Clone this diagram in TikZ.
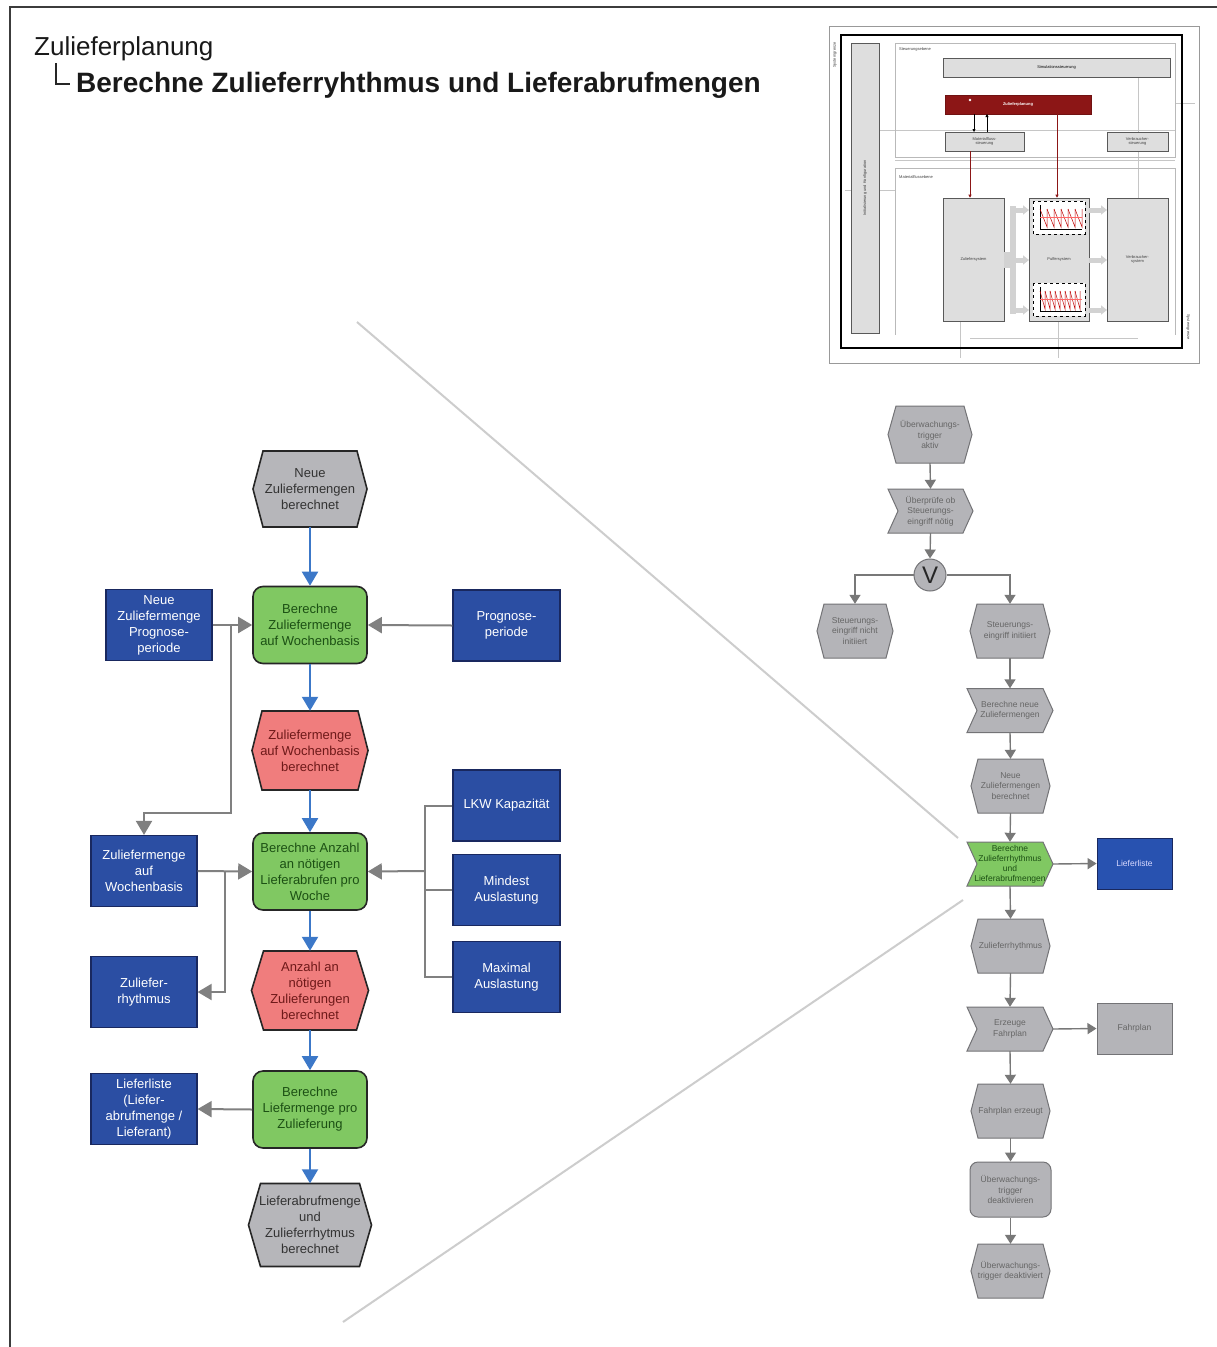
\documentclass[tikz,border=0pt]{standalone}
\usepackage{fontspec}
\setmainfont{Liberation Sans}
\usetikzlibrary{arrows.meta}
\definecolor{blueF}{RGB}{43,78,163}
\definecolor{blueB}{RGB}{25,40,95}
\definecolor{greenF}{RGB}{128,200,98}
\definecolor{greenT}{RGB}{28,80,20}
\definecolor{redF}{RGB}{240,125,125}
\definecolor{redT}{RGB}{110,25,25}
\definecolor{grayF}{RGB}{182,182,186}
\definecolor{rgrayF}{RGB}{180,180,184}
\definecolor{arrowBlue}{RGB}{60,120,200}
\definecolor{connGray}{RGB}{128,128,128}
\definecolor{rconn}{RGB}{120,120,120}
\definecolor{rbord}{RGB}{115,115,118}
\definecolor{darkRed}{RGB}{140,22,22}
\definecolor{lblue}{RGB}{40,82,176}
\definecolor{frameC}{RGB}{60,60,60}
\definecolor{diagC}{RGB}{205,205,205}
\definecolor{insF}{RGB}{222,222,222}

\newcommand\fs[2]{\fontsize{#1}{#2}\selectfont}
\newcommand\hexnode[9]{%
 \path[#1] ({#4-#6},#5) -- ({#4-#6+#8},{#5-#7}) -- ({#4+#6-#8},{#5-#7}) -- ({#4+#6},#5) -- ({#4+#6-#8},{#5+#7}) -- ({#4-#6+#8},{#5+#7}) -- cycle;
 \node[#2, minimum width={2*#6}, minimum height={2*#7}] (#3) at (#4,#5) {#9};}
\newcommand\chevnode[9]{%
 \path[#1] ({#4-#6},{#5-#7}) -- ({#4+#6-#8},{#5-#7}) -- ({#4+#6},#5) -- ({#4+#6-#8},{#5+#7}) -- ({#4-#6},{#5+#7}) -- ({#4-#6+#8},#5) -- cycle;
 \node[#2, minimum width={2*#6}, minimum height={2*#7}] (#3) at (#4,#5) {#9};}

\tikzset{
 dnode/.style={rectangle, draw=blueB, fill=blueF, line width=1.2, text=white, minimum width=106, minimum height=71, align=center, font=\fs{13}{16}, inner sep=0},
 fnode/.style={rectangle, rounded corners=10, draw=black!85, fill=greenF, line width=1.6, text=greenT, minimum width=114, minimum height=77, align=center, font=\fs{13}{16}, inner sep=0},
 evgray/.style={draw=black!85, line width=1.6, fill=grayF},
 evred/.style={draw=black!85, line width=1.6, fill=redF},
 etxtg/.style={inner sep=0, align=center, font=\fs{13}{16}, text=black!80},
 etxtr/.style={inner sep=0, align=center, font=\fs{13}{16}, text=redT},
 rsh/.style={draw=rbord, fill=rgrayF, line width=1},
 rgreen/.style={draw=rbord, fill=greenF, line width=1},
 rtxt/.style={inner sep=0, align=center, font=\fs{8.5}{10.5}, text=black!60},
 rgtxt/.style={inner sep=0, align=center, font=\fs{8.5}{10}, text=greenT},
 barrow/.style={draw=arrowBlue, line width=2, -{Triangle[length=14pt,width=16pt]}},
 garrow/.style={draw=connGray, line width=2, -{Triangle[length=14pt,width=16pt]}},
 gline/.style={draw=connGray, line width=2},
 rarrow/.style={draw=rconn, line width=1.4, -{Triangle[length=9pt,width=11pt]}},
 ins/.style={draw=gray!70!black, fill=insF, line width=0.6},
 instxt/.style={inner sep=0, font=\fs{4}{4.6}, align=center, text=black!75},
 thin/.style={draw=gray!45, line width=0.5},
}

\begin{document}
\begin{tikzpicture}[x=1pt,y=-1pt]
\useasboundingbox (0,0) rectangle (1217,1347);
\fill[white] (0,0) rectangle (1217,1347);

% page frame
\draw[frameC, line width=2] (10,1347) -- (10,7) -- (1217,7);

% title
\node[anchor=base west, font=\fs{26}{30}, inner sep=0, text=black!90] (t1) at (34,55) {Zulieferplanung};
\node[anchor=base west, font=\fs{28}{32}\bfseries, inner sep=0, text=black!90] (t2) at (76,92) {Berechne Zulieferryhthmus und Lieferabrufmengen};
\draw[black!85, line width=1.5] (56,63) -- (56,84) -- (70,84);

% diagonal zoom lines
\draw[diagC, line width=2] (357,322) -- (958,838);
\draw[diagC, line width=2] (343,1322) -- (963,900);

% ---------------- inset -----------------
\draw[gray!80, line width=0.9] (829,26) rectangle (1199,363);
\draw[thin] (1175,103) -- (1195,103);
\draw[thin] (845,190) -- (895,190);
\draw[thin] (880,130) -- (1175,130);
\draw[thin] (895,160) -- (1175,160);
\draw[thin] (960,321) -- (960,358);
\draw[thin] (1058,321) -- (1058,358);
\draw[thin] (970,338) -- (1138,338);
\draw[thin] (1138,77) -- (1138,132);
\draw[thin] (1138,151) -- (1138,198);
\draw[black, line width=1.6] (841,35) rectangle (1182,348);
\node[instxt, rotate=90] (sg1) at (835,55) {Systemgrenze};
\node[instxt, rotate=-90] (sg2) at (1188,327) {Systemgrenze};
\node[ins, minimum width=28, minimum height=290, inner sep=0] (init) at (865,188) {};
\node[instxt, rotate=90] at (init.center) {Initialisierung und Konfiguration};
\draw[gray!55, line width=0.6] (895,43) rectangle (1175,157);
\node[instxt, anchor=west] (steb) at (899,49) {Steuerungsebene};
\node[ins, minimum width=227, minimum height=19, inner sep=0, font=\fs{4}{4.6}] (sim) at (1056.5,67.5) {Simulationssteuerung};
\node[draw=darkRed!80!black, fill=darkRed, minimum width=146, minimum height=19, inner sep=0, font=\fs{4}{4.6}\bfseries, text=white] (zp) at (1018,104.5) {Zulieferplanung};
\fill[white] (970,100) circle (1.4);
\node[ins, minimum width=79, minimum height=19, inner sep=0, instxt] (mfs) at (984.5,141.5) {Materialfluss-\\steuerung};
\node[ins, minimum width=61, minimum height=19, inner sep=0, instxt] (vs) at (1137.5,141.5) {Verbraucher-\\steuerung};
\draw[gray!55, line width=0.6] (895,168) -- (1175,168) -- (1175,335);
\draw[gray!55, line width=0.6] (895,168) -- (895,335);
\node[instxt, anchor=west] (mfe) at (899,177) {Materialflussebene};
\node[ins, minimum width=61, minimum height=123, inner sep=0, instxt] (zs) at (973.5,259.5) {Zuliefersystem};
\node[ins, minimum width=60, minimum height=123, inner sep=0, instxt] (ps) at (1059,259.5) {Puffersystem};
\node[ins, minimum width=61, minimum height=123, inner sep=0, instxt] (vsy) at (1137.5,259.5) {Verbraucher-\\system};
\fill[gray!35] (1004,252) rectangle (1012,268);
\fill[gray!35] (1010,206) rectangle (1016,314);
\foreach \yy in {210,260,310}{
  \draw[gray!35, line width=5, -{Triangle[length=6pt,width=9pt]}] (1014,\yy) -- (1029,\yy);
  \draw[gray!35, line width=5, -{Triangle[length=6pt,width=9pt]}] (1089,\yy) -- (1107,\yy);
}
\draw[black, dashed, line width=0.5, fill=white] (1033,201) rectangle (1085,234);
\draw[black, dashed, line width=0.5, fill=white] (1033,283) rectangle (1085,316);
\foreach \by/\n/\st in {201/6/7, 283/8/5}{
  \draw[black, line width=0.6] (1040,{\by+4}) -- (1040,{\by+28}) -- (1082,{\by+28});
  \foreach \i in {1,...,\n}{
    \draw[red!75!black, line width=0.5] ({1040+\st*(\i-1)},{\by+8}) -- ({1040+\st*\i},{\by+26}) -- ({1040+\st*\i},{\by+8});
  }
  \draw[red!60, line width=0.4] (1040,{\by+16}) -- (1082,{\by+16});
}
\draw[darkRed, line width=0.8, -{Triangle[length=3pt,width=3pt]}] (970,151) -- (zs.north -| 970,0);
\draw[darkRed, line width=0.8, -{Triangle[length=3pt,width=3pt]}] (1057,114) -- (ps.north -| 1057,0);
\draw[black, line width=0.8, -{Triangle[length=3pt,width=3pt]}] (974,114) -- (974,132);
\draw[black, line width=0.8, -{Triangle[length=3pt,width=3pt]}] (987,132) -- (987,114);

% ---------------- left detailed process -----------------
\hexnode{evgray}{etxtg}{n1}{310}{489}{57}{38}{10}{Neue\\Zuliefermengen\\berechnet}
\node[fnode] (f1) at (310,625) {Berechne\\Zuliefermenge\\auf Wochenbasis};
\node[dnode] (d1) at (159,625) {Neue\\Zuliefermenge\\Prognose-\\periode};
\node[dnode, minimum width=107] (d2) at (506.5,625.5) {Prognose-\\periode};
\hexnode{evred}{etxtr}{e2}{310}{750.5}{58}{39.5}{10}{Zuliefermenge\\auf Wochenbasis\\berechnet}
\node[fnode] (f2) at (310,871.5) {Berechne Anzahl\\an nötigen\\Lieferabrufen pro\\Woche};
\node[dnode, minimum width=107] (lkw) at (506.5,805.5) {LKW Kapazität};
\node[dnode, minimum width=107] (mind) at (506.5,890) {Mindest\\Auslastung};
\node[dnode, minimum width=107] (maxa) at (506.5,977) {Maximal\\Auslastung};
\node[dnode] (d3) at (144,871) {Zuliefermenge\\auf\\Wochenbasis};
\node[dnode] (d4) at (144,992) {Zuliefer-\\rhythmus};
\hexnode{evred}{etxtr}{e3}{310}{990.5}{58.5}{39.5}{12}{Anzahl an\\nötigen\\Zulieferungen\\berechnet}
\node[fnode] (f3) at (310,1109.5) {Berechne\\Liefermenge pro\\Zulieferung};
\node[dnode] (d5) at (144,1109) {Lieferliste\\(Liefer-\\abrufmenge /\\Lieferant)};
\hexnode{evgray}{etxtg}{e4}{310}{1225}{61.5}{41.5}{12}{Lieferabrufmenge\\und\\Zulieferrhytmus\\berechnet}

% blue control flow
\draw[barrow] (n1.south) -- (f1.north);
\draw[barrow] (f1.south) -- (e2.north);
\draw[barrow] (e2.south) -- (f2.north);
\draw[barrow] (f2.south) -- (e3.north);
\draw[barrow] (e3.south) -- (f3.north);
\draw[barrow] (f3.south) -- (e4.north);

% gray data flow
\coordinate (j1) at (231,625);
\coordinate (j2) at (225,871);
\coordinate (j3) at (425,871);
\draw[garrow] (d1.east) -- (f1.west);
\draw[garrow] (j1) -- (231,813) -| (d3.north);
\draw[garrow] (d2.west) -- (f1.east);
\draw[garrow] (d3.east) -- (f2.west);
\draw[garrow] (j2) |- (d4.east);
\draw[gline] (lkw.west) -| (j3);
\draw[gline] (mind.west) -| (j3);
\draw[gline] (maxa.west) -| (j3);
\draw[garrow] (j3) -- (f2.east);
\draw[garrow] (f3.west) -- (d5.east);

% ---------------- right overview process -----------------
\hexnode{rsh}{rtxt}{r1}{930}{434.5}{42}{28.5}{8}{Überwachungs-\\trigger\\aktiv}
\chevnode{rsh}{rtxt}{r2}{930.5}{511}{42.5}{22}{10}{Überprüfe ob\\Steuerungs-\\eingriff nötig}
\node[circle, draw=rbord, fill=rgrayF, line width=1, minimum size=32, inner sep=0, font=\fs{24}{24}, text=black!85] (rv) at (930,575) {V};
\hexnode{rsh}{rtxt}{r3}{855}{631}{38}{27}{7}{Steuerungs-\\eingriff nicht\\initiiert}
\hexnode{rsh}{rtxt}{r4}{1010}{631}{40}{27}{7}{Steuerungs-\\eingriff initiiert}
\chevnode{rsh}{rtxt}{r5}{1010}{710.5}{43}{22}{10}{Berechne neue\\Zuliefermengen}
\hexnode{rsh}{rtxt}{r6}{1010.5}{786}{39.5}{27}{7}{Neue\\Zuliefermengen\\berechnet}
\chevnode{rgreen}{rgtxt}{r7}{1010}{864}{43}{22}{10}{Berechne\\Zulieferrhythmus\\und\\Lieferabrufmengen}
\node[rectangle, draw=blueB, fill=lblue, line width=0.8, minimum width=75, minimum height=51, inner sep=0, font=\fs{8.5}{10.5}, text=white!85!blue] (r8) at (1134.5,863.5) {Lieferliste};
\hexnode{rsh}{rtxt}{r9}{1010.5}{946}{39.5}{27}{7}{Zulieferrhythmus}
\chevnode{rsh}{rtxt}{r10}{1010}{1029}{43}{22}{10}{Erzeuge\\Fahrplan}
\node[rectangle, draw=rbord, fill=rgrayF, line width=1, minimum width=75, minimum height=51, inner sep=0, font=\fs{8.5}{10.5}, text=black!60] (r11) at (1134.5,1028.5) {Fahrplan};
\hexnode{rsh}{rtxt}{r12}{1010.5}{1111}{39.5}{27}{7}{Fahrplan erzeugt}
\node[rectangle, rounded corners=8, draw=rbord, fill=rgrayF, line width=1, minimum width=81, minimum height=55, inner sep=0, align=center, font=\fs{8.5}{10.5}, text=black!60] (r13) at (1010.5,1189.5) {Überwachungs-\\trigger\\deaktivieren};
\hexnode{rsh}{rtxt}{r14}{1010.5}{1271}{39.5}{27}{7}{Überwachungs-\\trigger deaktiviert};

\draw[rarrow] (r1.south) -- (r2.north);
\draw[rarrow] (r2.south) -- (rv.north);
\draw[rarrow] (rv.west) -| (r3.north);
\draw[rarrow] (rv.east) -| (r4.north);
\draw[rarrow] (r4.south) -- (r5.north);
\draw[rarrow] (r5.south) -- (r6.north);
\draw[rarrow] (r6.south) -- (r7.north);
\draw[rarrow] (r7.east) -- (r8.west);
\draw[rarrow] (r7.south) -- (r9.north);
\draw[rarrow] (r9.south) -- (r10.north);
\draw[rarrow] (r10.east) -- (r11.west);
\draw[rarrow] (r10.south) -- (r12.north);
\draw[rarrow] (r12.south) -- (r13.north);
\draw[rarrow] (r13.south) -- (r14.north);
\end{tikzpicture}
\end{document}
